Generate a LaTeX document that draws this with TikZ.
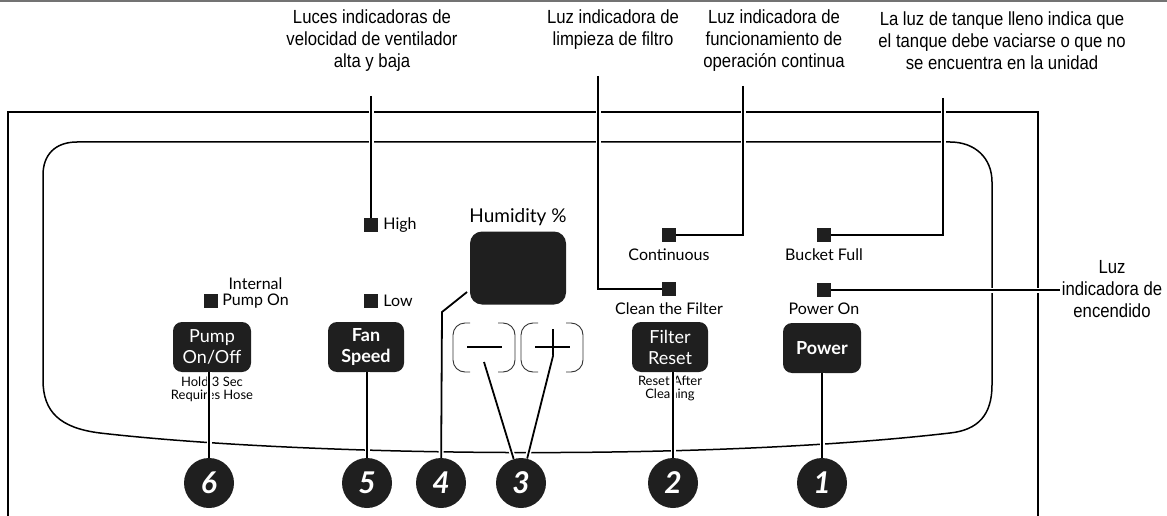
\documentclass[tikz,border=0pt]{standalone}
\usepackage{fontspec}
\setmainfont{Lato}
\newfontfamily\notefont[FakeStretch=0.88]{Liberation Sans}
\usetikzlibrary{positioning,calc}

\tikzset{
  note/.style={font=\notefont\fontsize{19}{22}\selectfont, align=center, inner sep=2pt},
  tag/.style={font=\fontsize{16}{18}\selectfont, inner sep=1pt},
  led/.style={fill=black!88, minimum size=14pt, inner sep=0pt},
  key/.style={fill=black!88, text=white, rounded corners=9pt, minimum width=78pt,
    minimum height=50pt, align=center, inner sep=0pt, font=\fontsize{18}{21}\selectfont},
  hint/.style={font=\fontsize{13}{13}\selectfont, align=center, inner sep=0pt},
  num/.style={circle, fill=black!88, text=white, minimum size=50pt, inner sep=0pt,
    font=\fontsize{30}{30}\selectfont\bfseries\itshape},
  lead/.style={line width=1.8pt, preaction={draw=white, line width=5pt}},
  bracket/.style={line width=0.9pt, black!80, rounded corners=12pt},
}

\begin{document}
\begin{tikzpicture}[x=1pt, y=-1pt]
\useasboundingbox (0,0) rectangle (1167,516);

% frame and panel
\draw[black!55, line width=2pt] (0,1) -- (1167,1);
\draw[line width=1.8pt] (8,530) -- (8,112) -- (1038,112) -- (1038,530);
\draw[line width=1.5pt] (43,380) -- (43,175) .. controls (43,155) and (55,142) .. (77,142)
  -- (950,142) .. controls (975,142) and (992,158) .. (992,182) -- (992,385)
  .. controls (992,415) and (978,430) .. (950,433)
  .. controls (700,462) and (300,456) .. (100,433)
  .. controls (60,428) and (43,412) .. (43,380);

% callout texts
\node[note] (lblFan) at (372,41) {Luces indicadoras de\\velocidad de ventilador\\alta y baja};
\node[note] (lblFil) at (613,30) {Luz indicadora de\\limpieza de filtro};
\node[note] (lblCont) at (774,41) {Luz indicadora de\\funcionamiento de\\operación continua};
\node[note] (lblBkt) at (1002,41) {La luz de tanque lleno indica que\\el tanque debe vaciarse o que no\\se encuentra en la unidad};
\node[note] (lblPwr) at (1112,289) {Luz\\indicadora de\\encendido};

% indicator lights
\node[led] (high) at (371,225) {};
\node[tag, right=4pt of high] (highTxt) {High};
\node[led] (low) at (371,301) {};
\node[tag, right=4pt of low] (lowTxt) {Low};
\node[led] (pumpLed) at (211,301) {};
\node[tag, right=3pt of pumpLed] (pumpTxt) {Pump On};
\node[tag, above=2pt of pumpTxt] (intTxt) {Internal};
\node[led] (cont) at (669,235) {};
\node[tag, below=5pt of cont] (contTxt) {Continuous};
\node[led] (clean) at (669,289) {};
\node[tag, below=5pt of clean] (cleanTxt) {Clean the Filter};
\node[led] (bucket) at (824,235) {};
\node[tag, below=5pt of bucket] (bucketTxt) {Bucket Full};
\node[led] (pwrLed) at (824,290) {};
\node[tag, below=5pt of pwrLed] (pwrTxt) {Power On};

% display
\node[fill=black!88, rounded corners=12pt, minimum width=96pt, minimum height=73pt] (disp) at (518,268) {};
\node[above=4pt of disp, inner sep=1pt, font=\fontsize{19}{19}\selectfont] (humTxt) {Humidity \%};

% buttons
\node[key] (pump) at (212,347) {Pump\\On/Off};
\node[key, font=\fontsize{18}{21}\selectfont\bfseries, minimum width=76pt] (fan) at (366,347) {Fan\\Speed};
\node[key, minimum width=76pt] (filter) at (670,347) {Filter\\Reset};
\node[key, font=\fontsize{18}{21}\selectfont\bfseries] (power) at (822,348) {Power};
\node[hint, below=5pt of pump] (pumpHint) {Hold 3 Sec\\Requires Hose};
\node[hint, below=4pt of filter] (filterHint) {Reset After\\Cleaning};

% minus / plus
\foreach \cx in {484,552} {
  \draw[bracket] (\cx-14,323) -- (\cx-31,323) -- (\cx-31,372) -- (\cx-14,372);
  \draw[bracket] (\cx+14,323) -- (\cx+31,323) -- (\cx+31,372) -- (\cx+14,372);
}
\draw[line width=1.2pt] (467,347) -- (502,347);
\draw[line width=1.2pt] (535,347) -- (570,347) (553,329) -- (553,358);
\coordinate (minusTip) at (484,362);
\coordinate (plusTip) at (553,356);

% numbers
\foreach \nm/\x/\t in {c6/209/6, c5/367/5, c4/441/4, c3/521/3, c2/673/2, c1/822/1}
  \node[num] (\nm) at (\x,483) {\t};

% leaders
\coordinate (fanTop) at (371,96);
\coordinate (filTop) at (598,76);
\coordinate (contTop) at (743,86);
\coordinate (bktTop) at (943,98);
\coordinate (dispTip) at (467,292);
\draw[lead] (fanTop) -- (high);
\draw[lead] (filTop) |- (clean);
\draw[lead] (contTop) |- (cont);
\draw[lead] (bktTop) |- (bucket);
\draw[lead] (pwrLed) -- (pwrLed -| lblPwr.west);
\draw[lead] (c6 |- pump.south) -- (c6);
\draw[lead] (c5 |- fan.south) -- (c5);
\draw[lead] (dispTip) -- ++(-25,20) -- (c4);
\draw[lead] (minusTip) -- (c3);
\draw[lead] (plusTip) -- (c3);
\draw[lead] (c2 |- filter.south) -- (c2);
\draw[lead] (c1 |- power.south) -- (c1);
\end{tikzpicture}
\end{document}
